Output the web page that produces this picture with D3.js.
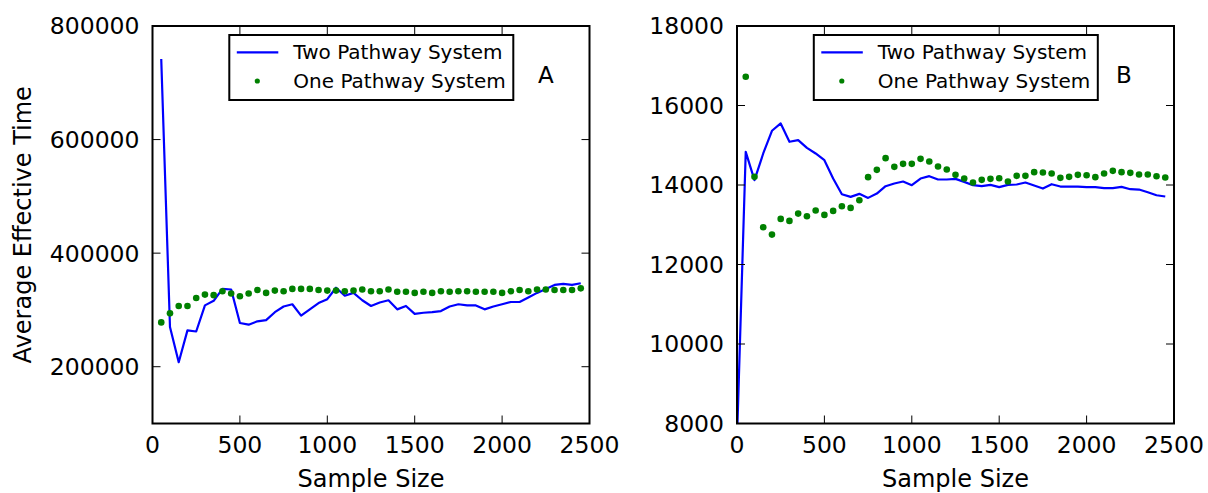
<!DOCTYPE html>
<html>
<head>
<meta charset="utf-8">
<script src="https://cdn.jsdelivr.net/npm/d3@7"></script>
<style>
  body { margin: 0; background: #fff; }
  text { font-family: "DejaVu Sans", sans-serif; fill: #000; }
</style>
</head>
<body>
<script>
const WIDTH = 1208;
const HEIGHT = 493;
const BLUE = '#0000ff';
const GREEN = '#008000';

// sample sizes shared by both panels
const sampleSizes = [50, 100, 150, 200, 250, 300, 350, 400, 450, 500,
  550, 600, 650, 700, 750, 800, 850, 900, 950, 1000,
  1050, 1100, 1150, 1200, 1250, 1300, 1350, 1400, 1450, 1500,
  1550, 1600, 1650, 1700, 1750, 1800, 1850, 1900, 1950, 2000,
  2050, 2100, 2150, 2200, 2250, 2300, 2350, 2400, 2450];

// panel A
const twoPathwayA = [742000, 270000, 208000, 264000, 262000, 308000, 316000, 337000, 336000, 277000,
  274000, 280000, 282000, 296000, 306000, 310000, 290000, 301000, 312000, 319000,
  339000, 325000, 330000, 317000, 307000, 313000, 317000, 301000, 307000, 293000,
  295000, 296000, 298000, 306000, 310000, 308000, 308000, 301000, 306000, 310000,
  314000, 314000, 322000, 330000, 337000, 344000, 346000, 344000, 347000];
const onePathwayA = [278000, 294000, 307000, 307000, 321000, 327000, 326000, 333000, 329000, 324000,
  329000, 335000, 330000, 334000, 333000, 337000, 337000, 337000, 335000, 334000,
  334000, 333000, 334000, 336000, 333000, 333000, 336000, 332000, 332000, 330000,
  332000, 330000, 333000, 332000, 333000, 333000, 332000, 332000, 332000, 330000,
  333000, 335000, 333000, 336000, 336000, 335000, 335000, 335000, 338000];

// panel B (two pathway series also has a point at sample size 0)
const twoPathwaySizesB = [0].concat(sampleSizes);
const twoPathwayB = [7600, 14835, 14121, 14793, 15364, 15548, 15087, 15129, 14935, 14793, 14625,
  14163, 13768, 13701, 13777, 13676, 13785, 13970, 14037, 14087, 13995,
  14163, 14222, 14138, 14138, 14155, 14079, 13995, 13970, 14003, 13945,
  14003, 14012, 14062, 13987, 13911, 14020, 13961, 13961, 13961, 13945,
  13945, 13920, 13920, 13953, 13894, 13886, 13819, 13743, 13710];
const onePathwayB = [16723, 14205, 12937, 12752, 13147, 13097, 13281, 13214, 13357, 13248,
  13349, 13466, 13424, 13617, 14197, 14381, 14675, 14457, 14532, 14532,
  14658, 14591, 14465, 14390, 14255, 14163, 14062, 14129, 14155, 14171,
  14087, 14230, 14230, 14323, 14314, 14289, 14180, 14205, 14255, 14247,
  14197, 14289, 14356, 14323, 14306, 14264, 14264, 14222, 14188];

const xTicks = [0, 500, 1000, 1500, 2000, 2500];
const yTicksA = [200000, 400000, 600000, 800000];
const yTicksB = [8000, 10000, 12000, 14000, 16000, 18000];
const legendLabels = ['Two Pathway System', 'One Pathway System'];

const svg = d3.select('body').append('svg')
  .attr('width', WIDTH)
  .attr('height', HEIGHT);

const panel = ({ id, left, top = 26, width = 437, height = 397.5,
  yDomain, yTicks, twoX, twoY, oneY, letter, yLabel }) => {

  const x = d3.scaleLinear().domain([0, 2500]).range([left, left + width]);
  const y = d3.scaleLinear().domain(yDomain).range([top + height, top]);

  svg.append('clipPath').attr('id', 'clip-' + id)
    .append('rect')
    .attr('x', left).attr('y', top)
    .attr('width', width).attr('height', height);

  const plot = svg.append('g').attr('clip-path', `url(#clip-${id})`);

  const line = d3.line()
    .x((d, i) => x(twoX[i]))
    .y(d => y(d));

  plot.append('path')
    .datum(twoY)
    .attr('fill', 'none')
    .attr('stroke', BLUE)
    .attr('stroke-width', 2.2)
    .attr('stroke-linejoin', 'round')
    .attr('d', line);

  plot.selectAll('circle.one')
    .data(oneY)
    .join('circle')
    .attr('class', 'one')
    .attr('cx', (d, i) => x(sampleSizes[i]))
    .attr('cy', d => y(d))
    .attr('r', 3.3)
    .attr('fill', GREEN);

  // ticks pointing inwards on all four sides
  const tickLen = 8;
  const axes = svg.append('g').attr('stroke', '#000').attr('stroke-width', 1);
  xTicks.forEach(t => {
    axes.append('line').attr('x1', x(t)).attr('x2', x(t))
      .attr('y1', top + height).attr('y2', top + height - tickLen);
    axes.append('line').attr('x1', x(t)).attr('x2', x(t))
      .attr('y1', top).attr('y2', top + tickLen);
  });
  yTicks.forEach(t => {
    axes.append('line').attr('x1', left).attr('x2', left + tickLen)
      .attr('y1', y(t)).attr('y2', y(t));
    axes.append('line').attr('x1', left + width).attr('x2', left + width - tickLen)
      .attr('y1', y(t)).attr('y2', y(t));
  });

  svg.append('rect')
    .attr('x', left).attr('y', top)
    .attr('width', width).attr('height', height)
    .attr('fill', 'none')
    .attr('stroke', '#000')
    .attr('stroke-width', 2);

  svg.append('g').selectAll('text')
    .data(xTicks)
    .join('text')
    .attr('x', d => x(d))
    .attr('y', top + height + 29.5)
    .attr('text-anchor', 'middle')
    .style('font-size', '23.5px')
    .text(d => d);

  svg.append('g').selectAll('text')
    .data(yTicks)
    .join('text')
    .attr('x', left - 13)
    .attr('y', d => y(d))
    .attr('dy', '0.36em')
    .attr('text-anchor', 'end')
    .style('font-size', '23.5px')
    .text(d => d);

  svg.append('text')
    .attr('x', left + width / 2)
    .attr('y', 486.5)
    .attr('text-anchor', 'middle')
    .style('font-size', '24px')
    .text('Sample Size');

  if (yLabel) {
    svg.append('text')
      .attr('transform', `translate(31,${top + height / 2}) rotate(-90)`)
      .attr('text-anchor', 'middle')
      .style('font-size', '24px')
      .text(yLabel);
  }

  svg.append('text')
    .attr('x', left + (letter === 'A' ? 385.5 : 379))
    .attr('y', 83.3)
    .style('font-size', '23px')
    .text(letter);

  // legend
  const lg = svg.append('g').attr('transform', `translate(${left + 76.8},35)`);
  lg.append('rect')
    .attr('width', 284).attr('height', 65)
    .attr('fill', '#fff')
    .attr('stroke', '#000')
    .attr('stroke-width', 2);
  lg.append('line')
    .attr('x1', 7.5).attr('x2', 49)
    .attr('y1', 17.3).attr('y2', 17.3)
    .attr('stroke', BLUE).attr('stroke-width', 2.2);
  lg.append('circle')
    .attr('cx', 28).attr('cy', 46)
    .attr('r', 2.6)
    .attr('fill', GREEN);
  lg.selectAll('text')
    .data(legendLabels)
    .join('text')
    .attr('x', 64)
    .attr('y', (d, i) => 24.3 + i * 29)
    .style('font-size', '20px')
    .text(d => d);
};

panel({
  id: 'a', left: 152.5,
  yDomain: [100000, 800000], yTicks: yTicksA,
  twoX: sampleSizes, twoY: twoPathwayA, oneY: onePathwayA,
  letter: 'A', yLabel: 'Average Effective Time'
});

panel({
  id: 'b', left: 737,
  yDomain: [8000, 18000], yTicks: yTicksB,
  twoX: twoPathwaySizesB, twoY: twoPathwayB, oneY: onePathwayB,
  letter: 'B'
});
</script>
</body>
</html>
